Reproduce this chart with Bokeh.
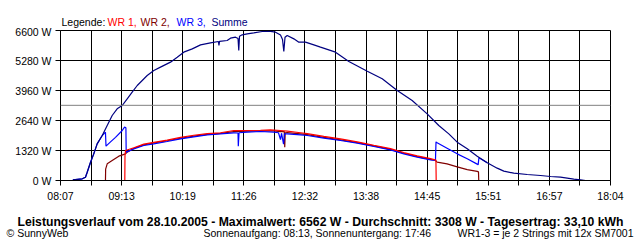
from bokeh.plotting import figure
from bokeh.layouts import column, row
from bokeh.models import FixedTicker, PrintfTickFormatter, Span, Range1d
from bokeh.core.properties import value
from bokeh.embed import file_html
from bokeh.resources import INLINE

# ---------------- data (time in minutes of day, power in W) ----------------
tick_labels = ["08:07", "09:13", "10:19", "11:26", "12:32", "13:38", "14:45", "15:51", "16:57", "18:04"]
y_ticks = [0, 1320, 2640, 3960, 5280, 6600]
average_w = 3308

t_sum = [500.4, 510.6, 514.1, 516.0, 519.6, 523.1, 526.8, 532.3, 537.7, 543.1, 548.5, 554.0, 559.4,
         564.8, 570.3, 575.7, 581.1, 588.3, 595.5, 606.4, 613.7, 620.8, 630.0, 639.0, 649.8, 658.4,
         659.0, 659.6, 667.9, 671.5, 677.0, 679.7, 680.5, 681.3, 684.2, 689.7, 696.8, 705.9, 714.9,
         720.4, 725.8, 728.0, 729.4, 730.7, 733.1, 740.3, 745.7, 752.9, 762.0, 769.2, 785.5, 800.0,
         820.0, 836.2, 852.5, 868.7, 885.0, 897.6, 908.5, 917.6, 928.5, 939.3, 950.2, 961.0, 968.2,
         979.0, 993.6, 1008.0, 1018.9, 1029.7, 1044.2, 1051.4, 1057.0]
w_sum = [30, 75, 145, 365, 805, 1173, 1613, 1980, 2420, 2860, 3153, 3300, 3593,
         3887, 4180, 4400, 4620, 4840, 4987, 5207, 5427, 5647, 5793, 5967, 6053, 6116,
         5940, 6120, 6160, 6263, 6307, 6250, 5720, 6350, 6410, 6453, 6497, 6556, 6562,
         6527, 6400, 6200, 5676, 6300, 6380, 6233, 6087, 6087, 5967, 5867, 5647, 5236,
         4810, 4473, 3960, 3520, 2933, 2420, 2053, 1687, 1393, 1071, 777, 543, 411,
         323, 264, 220, 176, 147, 60, 30, 0]

t_wr3 = [500.4, 510.6, 514.1, 516.0, 519.6, 523.1, 526.8, 532.3, 535.8, 536.4, 541.3, 546.7, 554.0,
         556.5, 558.0, 558.3, 566.6, 577.4, 588.3, 602.8, 617.3, 631.7, 646.2, 660.7, 675.1, 679.7,
         680.0, 680.8, 689.7, 704.1, 718.5, 723.6, 725.8, 726.9, 729.1, 730.1, 733.1, 747.5, 754.8,
         772.8, 790.9, 809.1, 827.1, 845.2, 859.6, 874.2, 888.6, 894.0, 894.6, 895.8, 906.6, 917.6,
         928.5, 939.3, 940.3, 941.2, 950.2]
w_wr3 = [30, 75, 145, 365, 805, 1173, 1613, 1980, 2127, 1510, 1700, 1900, 2200,
         2347, 2320, 1250, 1393, 1540, 1613, 1716, 1833, 1921, 2009, 2053, 2097, 2090,
         1510, 2100, 2127, 2156, 2127, 2100, 1800, 2080, 1600, 2050, 2053, 2009, 1980,
         1863, 1760, 1643, 1496, 1349, 1173, 1027, 909, 880, 1700, 1657, 1423, 1173,
         960, 720, 690, 1000, 777]

t_wr2 = [535.8, 536.0, 537.7, 543.1, 550.3, 557.6, 559.4, 566.6, 577.4, 588.3, 602.8, 617.3, 631.7,
         646.2, 660.7, 675.1, 689.7, 704.1, 718.5, 725.8, 729.9, 730.4, 730.9, 733.1, 747.5, 754.8,
         772.8, 790.9, 809.1, 827.1, 845.2, 859.6, 874.2, 888.6, 894.0, 895.8, 906.6, 917.6, 928.5,
         939.3, 940.7, 941.0]
w_wr2 = [0, 500, 733, 880, 1071, 1173, 1247, 1420, 1570, 1650, 1750, 1860, 1950,
         2030, 2075, 2150, 2170, 2185, 2180, 2150, 2150, 1467, 2100, 2110, 2050, 2020,
         1900, 1790, 1670, 1520, 1370, 1200, 1050, 930, 880, 807, 733, 600, 480,
         400, 380, 0]

t_wr1 = [556.8, 557.0, 557.6, 566.6, 577.4, 588.3, 602.8, 617.3, 631.7, 646.2, 660.7, 675.1, 689.7,
         704.1, 714.9, 725.8, 733.1, 747.5, 754.8, 772.8, 790.9, 809.1, 827.1, 845.2, 859.6, 874.2,
         888.6, 894.5, 894.8]
w_wr1 = [0, 1100, 1320, 1440, 1600, 1680, 1780, 1900, 1990, 2060, 2100, 2200, 2200,
         2210, 2230, 2200, 2170, 2100, 2060, 1940, 1830, 1700, 1550, 1400, 1230, 1080,
         960, 900, 0]

legend_texts = ["Legende:", "WR 1,", "WR 2,", "WR 3,", "Summe"]
legend_colors = ["black", "#FF0000", "#800000", "#0000FF", "#000080"]
title_text = "Leistungsverlauf vom 28.10.2005 - Maximalwert: 6562 W - Durchschnitt: 3308 W - Tagesertrag: 33,10 kWh"
footer_left = "\u00a9 SunnyWeb"
footer_mid = "Sonnenaufgang: 08:13, Sonnenuntergang: 17:46"
footer_right = "WR1-3 = je 2 Strings mit 12x SM7001"

# ---------------- helpers ----------------
FONT = "Liberation Sans"
FS = "10.5px"
W = 640
TOP_H, OVERLAP, MAIN_H, BOT_H = 30, 5, 180, 35


def sec(ts):
    return [t * 60 for t in ts]


def hm_to_sec(s):
    h, m = s.split(":")
    return int(h) * 3600 + int(m) * 60


def text_strip(height):
    f = figure(width=W, height=height, output_backend="svg", toolbar_location=None,
               x_range=Range1d(0, W), y_range=Range1d(height, 0),
               x_axis_type=None, y_axis_type=None, min_border=0)
    f.grid.visible = False
    f.outline_line_color = None
    f.background_fill_color = "white"
    f.border_fill_color = "white"
    return f


# ---------------- legend strip ----------------
top = text_strip(TOP_H)
top.text(x=[61, 107, 140, 176, 211], y=[21] * 5, text=legend_texts, text_color=legend_colors,
         text_font=value(FONT), text_font_size=value(FS), text_baseline="alphabetic")

# ---------------- main chart ----------------
x0 = hm_to_sec(tick_labels[0])
x1 = hm_to_sec(tick_labels[-1])
step = (x1 - x0) // (len(tick_labels) - 1)
major = [x0 + k * step for k in range(len(tick_labels))]
minor = [x0 + step // 2 + k * step for k in range(len(tick_labels) - 1)]

p = figure(width=W, height=MAIN_H, output_backend="svg", toolbar_location=None,
           x_range=Range1d(x0, x1), y_range=Range1d(0, 6600),
           min_border_left=60, min_border_right=30, min_border_top=5, min_border_bottom=25,
           margin=(-OVERLAP, 0, 0, 0))
p.background_fill_color = "white"
p.border_fill_color = None
p.outline_line_color = "black"
p.outline_line_width = 1

p.xaxis.ticker = FixedTicker(ticks=major, minor_ticks=minor)
p.xaxis.major_label_overrides = {m: lab for m, lab in zip(major, tick_labels)}
p.yaxis.ticker = FixedTicker(ticks=y_ticks)
p.yaxis.formatter = PrintfTickFormatter(format="%d W")

for ax in (p.xaxis, p.yaxis):
    ax.axis_line_color = "black"
    ax.major_tick_line_color = "black"
    ax.major_tick_out = 5
    ax.major_tick_in = 0
    ax.major_label_text_font = FONT
    ax.major_label_text_font_size = FS
    ax.major_label_text_color = "black"
    ax.major_label_standoff = 4
p.xaxis.minor_tick_line_color = "black"
p.xaxis.minor_tick_out = 5
p.xaxis.minor_tick_in = 0
p.yaxis.minor_tick_line_color = None

p.xgrid.grid_line_color = "black"
p.xgrid.minor_grid_line_color = "black"
p.ygrid.grid_line_color = "black"

p.add_layout(Span(location=average_w, dimension="width", line_color="#808080", line_width=1))

p.line(sec(t_wr2), w_wr2, line_color="#800000", line_width=1.2)
p.line(sec(t_wr3), w_wr3, line_color="#0000FF", line_width=1.2)
p.line(sec(t_wr1), w_wr1, line_color="#FF0000", line_width=1.2)
p.line(sec(t_sum), w_sum, line_color="#000080", line_width=1.2)

# ---------------- footer strip ----------------
bot = text_strip(BOT_H)
bot.text(x=[320], y=[16], text=[title_text], text_align="center", text_font=value(FONT),
         text_font_size=value("12.2px"), text_font_style="bold", text_baseline="alphabetic",
         text_color="black")
bot.text(x=[6, 203], y=[27, 27], text=[footer_left, footer_mid], text_align="left",
         text_font=value(FONT), text_font_size=value(FS), text_baseline="alphabetic",
         text_color="black")
bot.text(x=[633], y=[27], text=[footer_right], text_align="right",
         text_font=value(FONT), text_font_size=value(FS), text_baseline="alphabetic",
         text_color="black")

layout = column(row(top), row(p), row(bot), spacing=0)
open("out.html", "w").write(file_html(layout, INLINE))
